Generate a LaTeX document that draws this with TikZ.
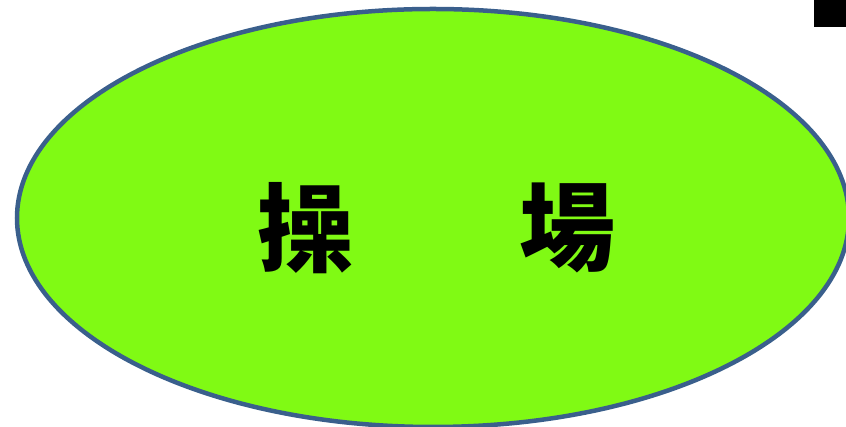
\documentclass[tikz,border=0pt]{standalone}
\usepackage{fontspec}
\newfontfamily\cjk{Noto Sans CJK TC}[BoldFont={* Black}]
\usetikzlibrary{shapes.geometric}
\definecolor{fieldgreen}{RGB}{128,250,20}
\definecolor{fieldblue}{RGB}{58,95,140}
\begin{document}
\begin{tikzpicture}
[x=1pt,y=1pt,%
  field/.style={shape=ellipse,draw=fieldblue,fill=fieldgreen,line width=4.5pt,inner sep=0pt},%
  word/.style={inner sep=0pt,font=\cjk\bfseries\fontsize{96}{96}\selectfont}]
\useasboundingbox (0,0) rectangle (846,427);
\node[field,minimum width=832,minimum height=418] (ground) at (433,209) {};
\node[word] (cao) at (305,199) {操};
\node[word] (chang) at (567,199) {場};
\fill[black] (814,400) rectangle (846,427);
\end{tikzpicture}
\end{document}
